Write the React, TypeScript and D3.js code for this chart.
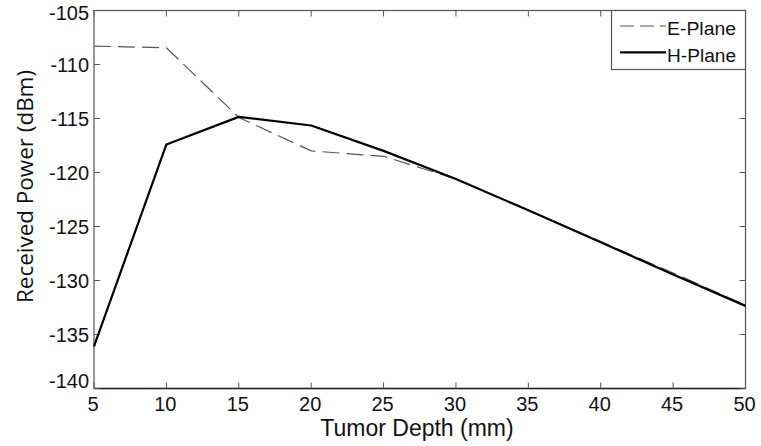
import React from "react";
import * as d3 from "d3";

const depths = [5, 10, 15, 20, 25, 30, 35, 40, 45, 50];
const ePlane = [-108.3, -108.45, -114.9, -118.0, -118.5, -120.6, -123.5, -126.4, -129.3, -132.3];
const hPlane = [-136.1, -117.4, -114.85, -115.65, -118.0, -120.6, -123.5, -126.45, -129.45, -132.35];
const xTicks = [5, 10, 15, 20, 25, 30, 35, 40, 45, 50];
const yTicks = [-105, -110, -115, -120, -125, -130, -135, -140];
const seriesNames = ["E-Plane", "H-Plane"];

const W = 761, H = 446;
const L = 94, R = 745.5, T = 10.5, B = 388.5;

export default function App() {
  const x = d3.scaleLinear().domain([5, 50]).range([L, R]);
  const y = d3.scaleLinear().domain([-140, -105]).range([B, T]);
  const line = d3.line<number>().x((_, i) => x(depths[i])).y((v) => y(v));
  const font = "'Liberation Sans', Arial, sans-serif";
  const axisCol = "#555";
  return (
    <svg width={W} height={H} style={{ position: "absolute", left: 0, top: 0, background: "#fff" }}>
      <rect x={0} y={0} width={W} height={H} fill="#fff" />
      <rect x={L} y={T} width={R - L} height={B - T} fill="none" stroke={axisCol} strokeWidth={1.2} />
      <line x1={L} x2={R} y1={B} y2={B} stroke="#222" strokeWidth={1.4} />
      {xTicks.map((t) => (
        <g key={"x" + t}>
          <line x1={x(t)} x2={x(t)} y1={B} y2={B - 6} stroke={axisCol} />
          <line x1={x(t)} x2={x(t)} y1={T} y2={T + 6} stroke={axisCol} />
          <text x={x(t) - 1} y={411} textAnchor="middle" fontFamily={font} fontSize={20} fill="#111">
            {t}
          </text>
        </g>
      ))}
      {yTicks.map((t) => {
        const cy = Math.min(Math.max(y(t), T + 2.5), B - 7.5);
        return (
          <g key={"y" + t}>
            <line x1={L} x2={L + 6} y1={y(t)} y2={y(t)} stroke={axisCol} />
            <line x1={R} x2={R - 6} y1={y(t)} y2={y(t)} stroke={axisCol} />
            <text x={L - 5} y={cy + 7} textAnchor="end" fontFamily={font} fontSize={20} fill="#111">
              {t}
            </text>
          </g>
        );
      })}
      <path d={line(ePlane) || ""} fill="none" stroke="#555" strokeWidth={1.2} strokeDasharray="17,7" />
      <path d={line(hPlane) || ""} fill="none" stroke="#000" strokeWidth={2.2} strokeLinejoin="round" />
      <rect x={611.5} y={T} width={R - 611.5} height={59} fill="#fff" stroke={axisCol} strokeWidth={1.2} />
      <line x1={620} x2={666} y1={26} y2={26} stroke="#555" strokeWidth={1.2} strokeDasharray="14,6" />
      <line x1={620} x2={666} y1={52.3} y2={52.3} stroke="#000" strokeWidth={2.2} />
      <text x={667} y={35} fontFamily={font} fontSize={18} fill="#111" textLength={69} lengthAdjust="spacingAndGlyphs">{seriesNames[0]}</text>
      <text x={667} y={61.5} fontFamily={font} fontSize={18} fill="#111" textLength={69} lengthAdjust="spacingAndGlyphs">{seriesNames[1]}</text>
      <text x={417} y={436} textAnchor="middle" fontFamily={font} fontSize={23} fill="#111">
        Tumor Depth (mm)
      </text>
      <text
        transform={`translate(33, 186.5) rotate(-90)`}
        textAnchor="middle"
        fontFamily="'Open Sans', 'Noto Sans', sans-serif"
        fontSize={22}
        textLength={233}
        lengthAdjust="spacingAndGlyphs"
        fill="#111"
      >
        Received Power (dBm)
      </text>
    </svg>
  );
}
